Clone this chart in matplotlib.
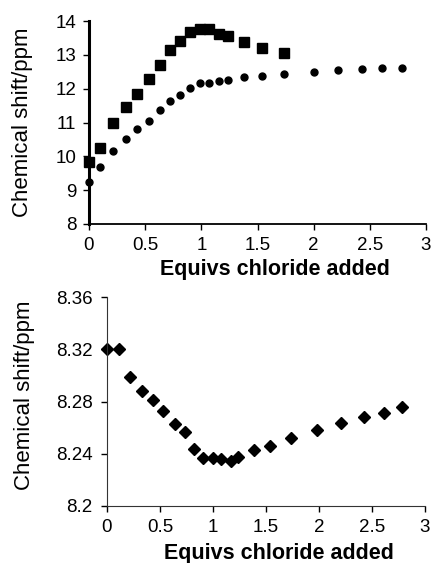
import matplotlib
matplotlib.use('Agg')
import matplotlib.pyplot as plt

plt.rcParams['font.family'] = ['Liberation Sans', 'DejaVu Sans']

# Верхний график: два набора сигналов
x_sq = [0, 0.10, 0.21, 0.33, 0.43, 0.53, 0.63, 0.72, 0.81, 0.90, 0.99, 1.07,
        1.16, 1.24, 1.38, 1.54, 1.74]
y_sq = [9.83, 10.24, 10.99, 11.45, 11.84, 12.29, 12.70, 13.13, 13.40, 13.67,
        13.75, 13.75, 13.62, 13.55, 13.38, 13.21, 13.06]

x_ci = [0, 0.10, 0.21, 0.33, 0.43, 0.53, 0.63, 0.72, 0.81, 0.90, 0.99, 1.07,
        1.16, 1.24, 1.38, 1.54, 1.74, 2.00, 2.22, 2.43, 2.61, 2.79]
y_ci = [9.25, 9.67, 10.17, 10.50, 10.80, 11.03, 11.36, 11.65, 11.82, 12.01,
        12.16, 12.18, 12.22, 12.26, 12.34, 12.38, 12.44, 12.50, 12.54, 12.59,
        12.62, 12.62]

# Нижний график
x_di = [0, 0.11, 0.22, 0.33, 0.43, 0.53, 0.64, 0.74, 0.82, 0.91, 1.0, 1.08,
        1.17, 1.24, 1.39, 1.54, 1.74, 1.98, 2.21, 2.42, 2.61, 2.78]
y_di = [8.320, 8.320, 8.299, 8.288, 8.281, 8.273, 8.263, 8.2565, 8.2435,
        8.2364, 8.2364, 8.2356, 8.2346, 8.2374, 8.243, 8.246, 8.2517, 8.2578,
        8.2636, 8.268, 8.271, 8.2756]

xticks = [0, 0.5, 1, 1.5, 2, 2.5, 3]
xticklabels = ['0', '0.5', '1', '1.5', '2', '2.5', '3']

fig = plt.figure(figsize=(4.32, 5.63), dpi=100)
# оси: пиксели -> доли фигуры
ax1 = fig.add_axes([89 / 432, 1 - 224 / 563, 337 / 432, 203 / 563])
ax2 = fig.add_axes([107 / 432, 1 - 506 / 563, 318 / 432, 209 / 563])


def style(ax, ypad):
    ax.spines['top'].set_visible(False)
    ax.spines['right'].set_visible(False)
    ax.set_xlim(0, 3)
    ax.set_xticks(xticks)
    ax.set_xticklabels(xticklabels)
    ax.tick_params(direction='out', length=4, width=1, labelsize=13.5)
    ax.tick_params(axis='x', pad=5)
    ax.tick_params(axis='y', pad=ypad)
    ax.set_xlabel('Equivs chloride added', fontsize=15.5, fontweight='bold')
    ax.set_ylabel('Chemical shift/ppm', fontsize=16)


style(ax1, 5)
ax1.plot(x_sq, y_sq, 's', color='black', markersize=6.5, clip_on=False)
ax1.plot(x_ci, y_ci, 'o', color='black', markersize=5, clip_on=False)
ax1.set_ylim(8, 14)
ax1.set_yticks(range(8, 15))
ax1.spines['left'].set_linewidth(2.2)
ax1.spines['bottom'].set_linewidth(1.3)
ax1.xaxis.set_label_coords(0.553, -0.17)
ax1.yaxis.set_label_coords(-0.165, 0.5)

style(ax2, 6.5)
ax2.plot(x_di, y_di, 'D', color='black', markersize=6, clip_on=False)
ax2.set_ylim(8.2, 8.36)
ax2.set_yticks([8.2, 8.24, 8.28, 8.32, 8.36])
ax2.set_yticklabels(['8.2', '8.24', '8.28', '8.32', '8.36'])
for s in ['left', 'bottom']:
    ax2.spines[s].set_color('#333333')
ax2.xaxis.set_label_coords(0.54, -0.175)
ax2.yaxis.set_label_coords(-0.225, 0.53)

fig.savefig('out.png', dpi=100)
